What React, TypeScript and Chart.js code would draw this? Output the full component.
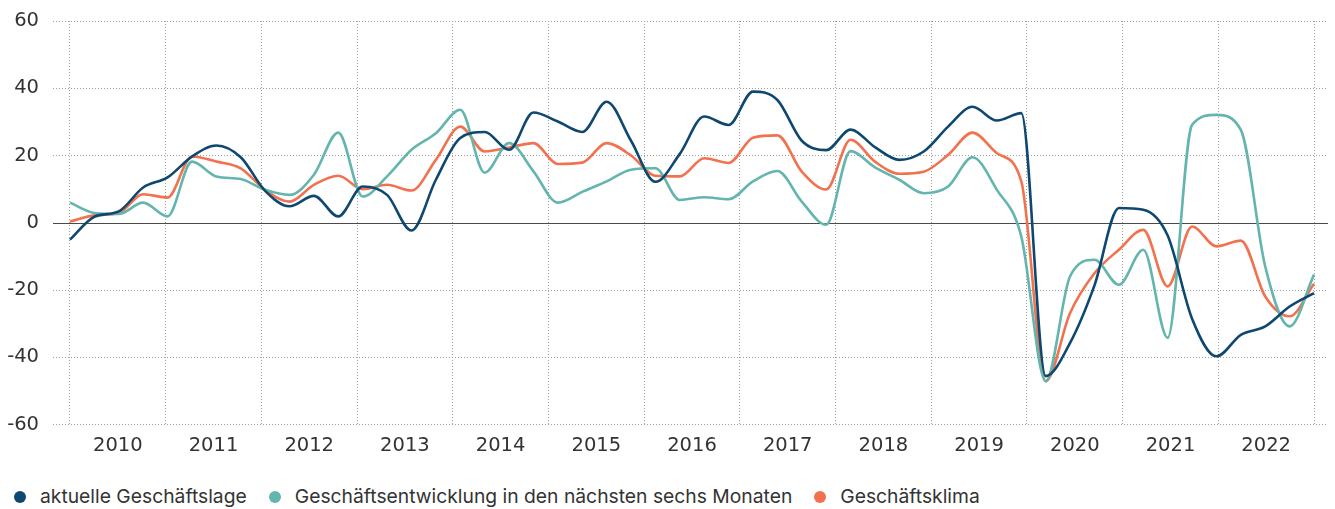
import React, { useEffect, useRef } from 'react';
import { Chart, registerables } from 'chart.js';

Chart.register(...registerables);

// ---- data ----
const YEARS = ['2010', '2011', '2012', '2013', '2014', '2015', '2016', '2017', '2018', '2019', '2020', '2021', '2022'];
const QUARTERS = ['Q1', 'Q2', 'Q3', 'Q4'];
const PERIOD_LABELS = YEARS.flatMap((y) => QUARTERS.map((q) => `${q} ${y}`));

const AKTUELLE_LAGE = [
  -5.0, 1.8, 3.4, 10.5, 13.5, 19.7, 23.0, 19.5,
  9.5, 4.9, 8.0, 1.9, 10.8, 8.3, -2.3, 12.8,
  25.2, 27.0, 21.7, 32.8, 30.1, 27.0, 36.0, 24.4,
  12.2, 20.5, 31.6, 29.1, 39.0, 36.5, 24.4, 21.6,
  27.7, 22.5, 18.7, 21.2, 28.6, 34.5, 30.4, 32.6,
  -45.6, -35.7, -18.6, 4.4, 3.9, -3.8, -28.5, -39.7,
  -33.3, -30.8, -24.9, -20.9,
];

const ENTWICKLUNG = [
  6.0, 2.9, 2.6, 6.0, 1.9, 18.2, 13.8, 13.0,
  9.8, 8.3, 14.3, 26.8, 7.8, 13.8, 21.7, 26.6,
  33.6, 14.9, 23.7, 15.3, 6.0, 9.2, 12.3, 15.8,
  16.2, 6.8, 7.6, 7.0, 12.3, 15.4, 6.3, -0.6,
  21.3, 16.5, 12.8, 8.8, 10.8, 19.5, 9.8, -4.1,
  -47.1, -15.9, -11.0, -18.4, -8.0, -34.2, 29.1, 32.1,
  27.6, -13.0, -30.8, -15.4,
];

const KLIMA = [
  0.4, 2.2, 2.9, 8.5, 7.5, 19.7, 18.2, 16.2,
  9.8, 6.3, 11.3, 14.0, 10.0, 11.3, 9.6, 18.7,
  28.6, 21.2, 22.4, 23.7, 17.5, 17.9, 23.7, 20.0,
  14.0, 13.8, 19.2, 17.8, 25.3, 26.0, 15.2, 9.9,
  24.7, 18.2, 14.6, 15.2, 20.2, 26.8, 20.7, 12.3,
  -47.1, -26.8, -15.0, -8.0, -2.1, -18.9, -1.1, -7.0,
  -5.3, -21.9, -27.8, -18.1,
];

const SERIES_NAMES = ['aktuelle Geschäftslage', 'Geschäftsentwicklung in den nächsten sechs Monaten', 'Geschäftsklima'];
const SERIES_COLORS = ['#0e4870', '#63b5ae', '#f2714e'];
const Y_MIN = -60;
const Y_MAX = 60;
const Y_STEP = 20;

const AXIS_FONT = '"DejaVu Sans", Inter, sans-serif';
const LEGEND_FONT = 'Inter, Roboto, "Liberation Sans", sans-serif';
const TEXT_COLOR = '#333333';
const GRID_COLOR = '#9d9d9d';

const toPoints = (values: number[]) => values.map((v, i) => ({ x: i, y: v, label: PERIOD_LABELS[i] }));

const zeroLinePlugin = {
  id: 'zeroLine',
  beforeDatasetsDraw(chart: any) {
    const yScale = chart.scales.y;
    const { left, right } = chart.chartArea;
    const y = Math.round(yScale.getPixelForValue(0)) + 0.5;
    const ctx = chart.ctx;
    ctx.save();
    ctx.strokeStyle = '#4a4a4a';
    ctx.lineWidth = 1.2;
    ctx.setLineDash([]);
    ctx.beginPath();
    ctx.moveTo(left, y);
    ctx.lineTo(right, y);
    ctx.stroke();
    ctx.restore();
  },
};

export default function App() {
  const canvasRef = useRef<HTMLCanvasElement | null>(null);

  useEffect(() => {
    if (!canvasRef.current) return;
    const n = PERIOD_LABELS.length;
    const firstYear = Number(YEARS[0]);
    const lastYear = Number(YEARS[YEARS.length - 1]) + 1;
    const chart = new Chart(canvasRef.current, {
      type: 'line',
      data: {
        datasets: [AKTUELLE_LAGE, ENTWICKLUNG, KLIMA].map((vals, k) => ({
          label: SERIES_NAMES[k],
          data: toPoints(vals),
          borderColor: SERIES_COLORS[k],
          backgroundColor: SERIES_COLORS[k],
          borderWidth: 2.6,
          pointRadius: 0,
          pointHoverRadius: 0,
          cubicInterpolationMode: 'monotone',
          fill: false,
          xAxisID: 'x',
          yAxisID: 'y',
        })),
      },
      options: {
        animation: false,
        responsive: true,
        maintainAspectRatio: false,
        layout: { padding: { top: 21, right: 7, bottom: 2, left: 0 } },
        plugins: {
          legend: { display: false },
          tooltip: { enabled: false },
        },
        scales: {
          x: {
            type: 'linear',
            display: false,
            min: -0.696,
            max: n - 1 + 0.573,
          },
          years: {
            type: 'linear',
            position: 'bottom',
            min: firstYear - 0.1774,
            max: lastYear + 0.146,
            afterBuildTicks: (scale: any) => {
              const ticks: any[] = [];
              for (let yv = firstYear; yv <= lastYear; yv++) {
                ticks.push({ value: yv });
                if (yv < lastYear) ticks.push({ value: yv + 0.5 });
              }
              scale.ticks = ticks;
            },
            grid: {
              color: (ctx: any) => (ctx.tick && Number.isInteger(ctx.tick.value) ? GRID_COLOR : 'rgba(0,0,0,0)'),
              lineWidth: 1,
              drawTicks: false,
              borderDash: [1, 2],
            },
            border: { display: false, dash: [1, 2] },
            ticks: {
              autoSkip: false,
              maxRotation: 0,
              minRotation: 0,
              padding: 10,
              color: TEXT_COLOR,
              font: { family: AXIS_FONT, size: 19.5 },
              callback: (value: any) => {
                const v = Number(value);
                if (Number.isInteger(v)) return '';
                const idx = Math.floor(v) - firstYear;
                return YEARS[idx] ?? '';
              },
            },
          },
          y: {
            min: Y_MIN,
            max: Y_MAX,
            ticks: {
              stepSize: Y_STEP,
              padding: 14,
              color: TEXT_COLOR,
              font: { family: AXIS_FONT, size: 19.5 },
              callback: (value: any) => String(value),
            },
            grid: {
              color: (ctx: any) => (ctx.tick && ctx.tick.value === 0 ? 'rgba(0,0,0,0)' : GRID_COLOR),
              lineWidth: 1,
              drawTicks: false,
              borderDash: [1, 2],
            },
            border: { display: false, dash: [1, 2] },
            afterFit: (scale: any) => {
              scale.width = 53;
              scale.paddingTop = 0;
              scale.paddingBottom = 0;
            },
          },
        },
      },
      plugins: [zeroLinePlugin],
    } as any);
    return () => chart.destroy();
  }, []);

  const legendItemStyle: React.CSSProperties = { display: 'flex', alignItems: 'center', whiteSpace: 'nowrap' };

  return (
    <div style={{ position: 'absolute', left: 0, top: 0, width: 1335, height: 509, background: '#fff' }}>
      <div style={{ position: 'relative', width: 1335, height: 470 }}>
        <canvas ref={canvasRef} />
      </div>
      <div
        style={{
          position: 'absolute',
          left: 14,
          top: 485,
          display: 'flex',
          alignItems: 'center',
          fontFamily: LEGEND_FONT,
          fontSize: 19.3,
          lineHeight: '23px',
          color: TEXT_COLOR,
        }}
      >
        {SERIES_NAMES.map((name, k) => (
          <div key={name} style={{ ...legendItemStyle, marginLeft: k === 0 ? 0 : 22 }}>
            <span
              style={{
                display: 'inline-block',
                width: 12,
                height: 12,
                borderRadius: '50%',
                background: SERIES_COLORS[k],
                marginRight: 14,
              }}
            />
            <span>{name}</span>
          </div>
        ))}
      </div>
    </div>
  );
}
